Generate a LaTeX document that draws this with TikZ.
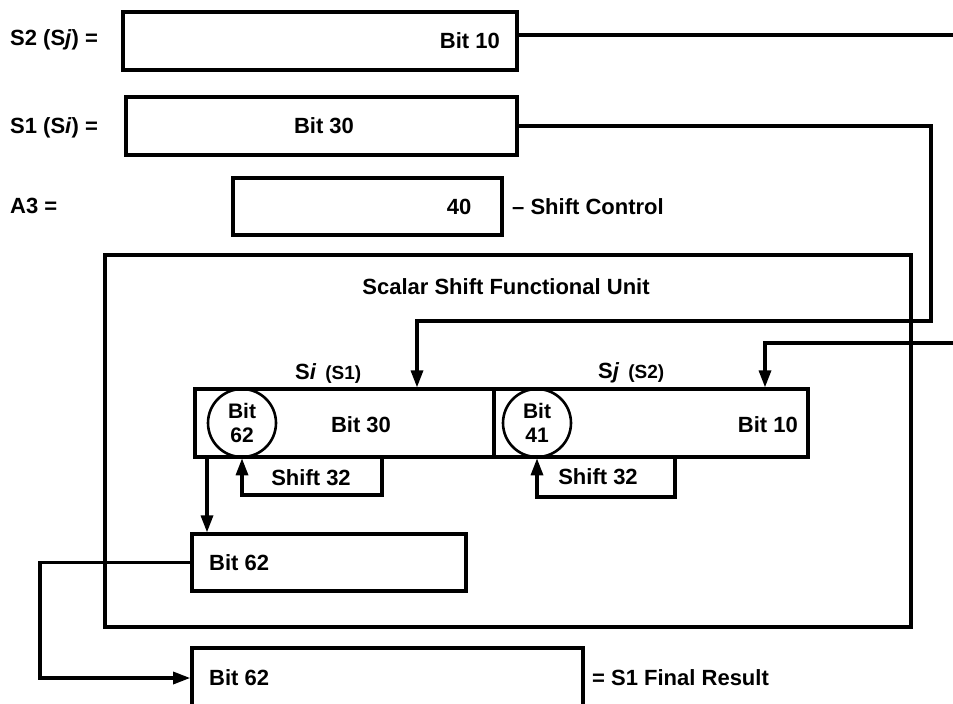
\documentclass[tikz,border=0pt]{standalone}
\usepackage{fontspec}
\setmainfont{Liberation Sans}
\usetikzlibrary{arrows.meta,calc}
\begin{document}
\begin{tikzpicture}[x=1pt,y=-1pt,
  reg/.style={draw, line width=3.6pt, inner sep=0pt, rectangle},
  cell/.style={draw, line width=3.2pt, inner sep=0pt, rectangle},
  lbl/.style={inner sep=0pt, font=\fontsize{22}{26}\selectfont\bfseries},
  ring/.style={draw, circle, line width=2.6pt, minimum size=68pt, inner sep=0pt, align=center, font=\fontsize{21}{24}\selectfont\bfseries},
  conn/.style={line width=3.2pt},
  arr/.style={line width=3.2pt, -{Triangle[width=12pt,length=17pt]}}
]
\useasboundingbox (0,0) rectangle (953,704);
\clip (0,0) rectangle (953,704);

% registers
\node[reg, minimum width=394pt, minimum height=58pt] (s2) at (320,41) {};
\node[reg, minimum width=391pt, minimum height=58pt] (s1) at (321.5,126) {};
\node[reg, minimum width=269pt, minimum height=57pt] (a3) at (367.5,206.5) {};
\node[reg, line width=3.8pt, minimum width=806pt, minimum height=372pt] (unit) at (508,441) {};
\node[cell, minimum width=299pt, minimum height=68pt] (si) at (344.5,423) {};
\node[cell, minimum width=314pt, minimum height=68pt] (sj) at (651,423) {};
\node[ring] (c62) at (242,423) {Bit\\62};
\node[ring] (c41) at (537,423) {Bit\\41};
\node[reg, line width=3.2pt, minimum width=274pt, minimum height=57pt] (b62) at (329,562.5) {};
\node[reg, minimum width=391pt, minimum height=60pt] (res) at (387.5,678) {};

% texts
\node[lbl, anchor=west] (ts2) at (10,40) {S2 (S\textit{j}) =};
\node[lbl, anchor=west] (ts1) at (10,128) {S1 (S\textit{i}) =};
\node[lbl, anchor=west] (ta3) at (10,206) {A3 =};
\node[lbl, anchor=east] (tb10) at (500,41) {Bit 10};
\node[lbl] (tb30) at (324,126) {Bit 30};
\node[lbl] (t40) at (459,207) {40};
\node[lbl, anchor=west] (tsc) at (512,207) {\textendash\ Shift Control};
\node[lbl] (tunit) at (506,287) {Scalar Shift Functional Unit};
\node[lbl, anchor=west] (tsi) at (295,373) {S\textit{i}\hspace{9pt}{\fontsize{19}{22}\selectfont (S1)}};
\node[lbl, anchor=west] (tsj) at (598,373) {S\textit{j}\hspace{9pt}{\fontsize{19}{22}\selectfont (S2)}};
\node[lbl] (tsib) at (361,425) {Bit 30};
\node[lbl, anchor=east] (tsjb) at (798,425) {Bit 10};
\node[lbl] (tsh1) at (311,478) {Shift 32};
\node[lbl] (tsh2) at (598,477) {Shift 32};
\node[lbl, anchor=west] (tb62) at (209,563) {Bit 62};
\node[lbl, anchor=west] (tres) at (209,678) {Bit 62};
\node[lbl, anchor=west] (tfin) at (592,678) {= S1 Final Result};

% off-picture ends
\coordinate (offA) at (965,35);
\coordinate (offB) at (965,343);

% connectors
\draw[conn] (s2.east |- offA) -- (offA);
\draw[arr] (offB) -| (765,0 |- sj.north);
\draw[arr] (s1.east) -- (931,126) -- (931,321) -| (417,0 |- si.north);
\draw[arr] (382,0 |- si.south) -- (382,495) -| (c62.south);
\draw[arr] (675,0 |- sj.south) -- (675,497) -| (c41.south);
\draw[arr] (207,0 |- si.south) -- (207,0 |- b62.north);
\draw[arr] (b62.west) -- (40,0 |- b62.west) |- (res.west);
\end{tikzpicture}
\end{document}
